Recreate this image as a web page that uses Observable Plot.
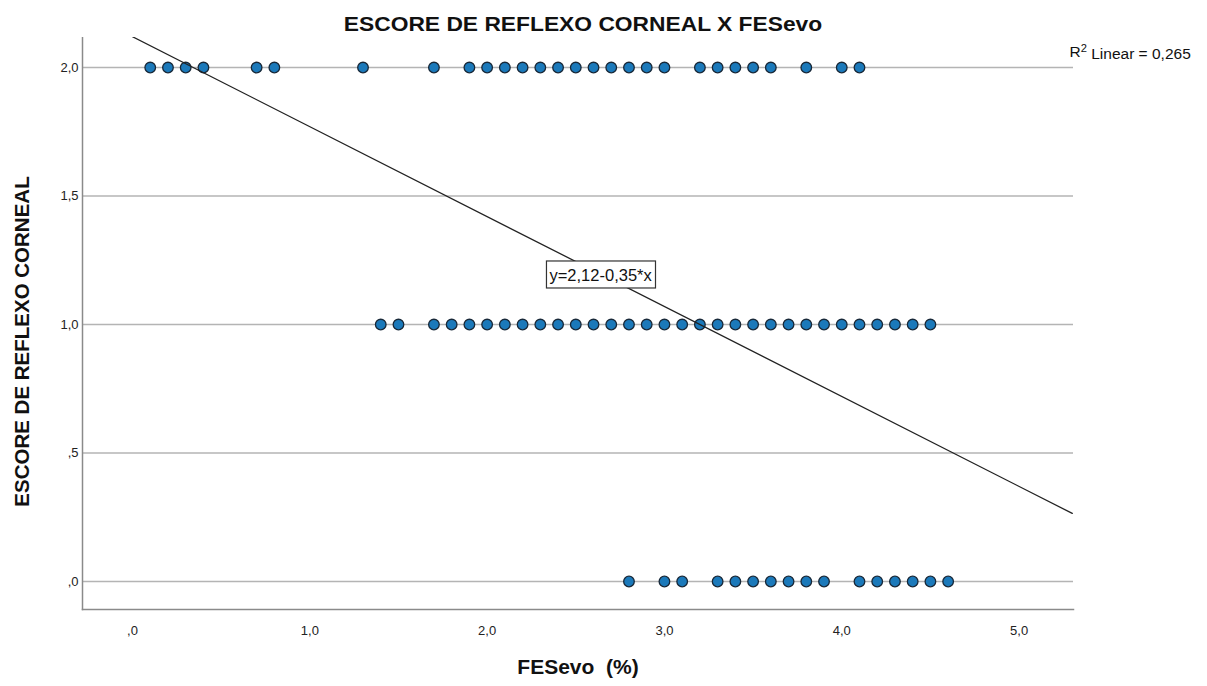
<!DOCTYPE html>
<html>
<head>
<meta charset="utf-8">
<script src="https://cdn.jsdelivr.net/npm/d3@7"></script>
<script src="https://cdn.jsdelivr.net/npm/@observablehq/plot@0.6"></script>
<style>
  body { margin: 0; background: #fff; font-family: Arial, "Liberation Sans", sans-serif; }
  #wrap { position: relative; width: 1207px; height: 686px; }
  #title { position: absolute; top: 12px; left: 583px; transform: translateX(-50%) scaleX(1.14); white-space: nowrap;
           font-weight: bold; font-size: 20px; line-height: 24px; color: #111; }
  #chart { position: absolute; top: 37px; left: 0; }
</style>
</head>
<body>
<div id="wrap">
  <div id="title">ESCORE DE REFLEXO CORNEAL X FESevo</div>
  <div id="chart"></div>
</div>
<script>
// Data
const fesevoScore2 = [0.1,0.2,0.3,0.4,0.7,0.8,1.3,1.7,1.9,2.0,2.1,2.2,2.3,2.4,2.5,2.6,2.7,2.8,2.9,3.0,3.2,3.3,3.4,3.5,3.6,3.8,4.0,4.1];
const fesevoScore1 = [1.4,1.5,1.7,1.8,1.9,2.0,2.1,2.2,2.3,2.4,2.5,2.6,2.7,2.8,2.9,3.0,3.1,3.2,3.3,3.4,3.5,3.6,3.7,3.8,3.9,4.0,4.1,4.2,4.3,4.4,4.5];
const fesevoScore0 = [2.8,3.0,3.1,3.3,3.4,3.5,3.6,3.7,3.8,3.9,4.1,4.2,4.3,4.4,4.5,4.6];
const scoreLevels = [2, 1, 0];
const yTicks = [0, 0.5, 1, 1.5, 2];
const yTickLabels = [",0", ",5", "1,0", "1,5", "2,0"];
const xTicks = [0, 1, 2, 3, 4, 5];
const xTickLabels = [",0", "1,0", "2,0", "3,0", "4,0", "5,0"];
const fitIntercept = 2.12;
const fitSlope = -0.35;
const fitRange = [0, 5.3];
const equationAt = [2.64, 1.19];
const r2Parts = ["R", "2", " Linear = 0,265"];
const equationText = "y=2,12-0,35*x";
const xLabel = "FESevo  (%)";
const yLabel = "ESCORE DE REFLEXO CORNEAL";

const points = [
  ...fesevoScore2.map(x => ({x, y: scoreLevels[0]})),
  ...fesevoScore1.map(x => ({x, y: scoreLevels[1]})),
  ...fesevoScore0.map(x => ({x, y: scoreLevels[2]}))
];
const fitLine = fitRange.map(x => ({x, y: fitIntercept + fitSlope * x}));

const chart = Plot.plot({
  width: 1207,
  height: 649,
  marginLeft: 82,
  marginRight: 134,
  marginTop: 0,
  marginBottom: 77,
  style: {fontFamily: "Arial, 'Liberation Sans', sans-serif", fontSize: "13px", color: "#222", background: "#fff"},
  x: {domain: [-0.282, 5.307]},
  y: {domain: [-0.109, 2.117]},
  marks: [
    Plot.ruleY(yTicks, {stroke: "#b4b4b4", strokeWidth: 1.5}),
    Plot.axisY({ticks: yTicks, tickFormat: d => yTickLabels[yTicks.indexOf(d)], tickSize: 0, tickPadding: 4, label: null, fontSize: 13}),
    Plot.axisX({ticks: xTicks, tickFormat: d => xTickLabels[xTicks.indexOf(d)], tickSize: 0, tickPadding: 16, label: null, fontSize: 13}),
    Plot.frame({anchor: "left", stroke: "#8a8a8a", strokeWidth: 1.5}),
    Plot.frame({anchor: "bottom", stroke: "#8a8a8a", strokeWidth: 1.5}),
    Plot.dot(points, {x: "x", y: "y", r: 5.3, fill: "#1b79ba", stroke: "#182838", strokeWidth: 1.3}),
    Plot.line(fitLine, {x: "x", y: "y", stroke: "#222", strokeWidth: 1.3, clip: true}),
    Plot.text([equationText], {x: () => equationAt[0], y: () => equationAt[1], text: d => d, fontSize: 16.5, fill: "#111", className: "eqtext"}),
    Plot.text([r2Parts.join("")], {frameAnchor: "top-right", text: d => d, textAnchor: "start", lineAnchor: "middle", dx: -4, dy: 15, fontSize: 15.5, fill: "#111", className: "r2text"}),
    Plot.text([yLabel], {frameAnchor: "left", text: d => d, rotate: -90, textAnchor: "middle", lineAnchor: "middle", dx: -60, dy: 18, fontSize: 20.5, fontWeight: "bold", fill: "#111"}),
    Plot.text([xLabel], {frameAnchor: "bottom", text: d => d, textAnchor: "middle", lineAnchor: "middle", dy: 58, fontSize: 21, fontWeight: "bold", fill: "#111"})
  ]
});
document.getElementById("chart").appendChild(chart);

// box around regression equation (white fill hides the line behind it)
const eq = d3.select(chart).select("g.eqtext text");
if (!eq.empty()) {
  const node = eq.node();
  const bb = node.getBBox();
  const rect = d3.select(node.parentNode).insert("rect", "text")
    .attr("x", bb.x - 3).attr("y", bb.y - 5)
    .attr("width", bb.width + 6).attr("height", bb.height + 9)
    .attr("fill", "#fff").attr("stroke", "#333").attr("stroke-width", 1.2);
  if (node.getAttribute("transform")) rect.attr("transform", node.getAttribute("transform"));
}

// superscript 2 in the R² label
const r2 = d3.select(chart).select("g.r2text text");
if (!r2.empty()) {
  r2.text(null);
  r2.append("tspan").text(r2Parts[0]);
  r2.append("tspan").text(r2Parts[1]).attr("dy", "-0.45em").attr("font-size", "0.72em");
  r2.append("tspan").text(r2Parts[2]).attr("dy", "0.45em").attr("font-size", "1em");
}
</script>
</body>
</html>
